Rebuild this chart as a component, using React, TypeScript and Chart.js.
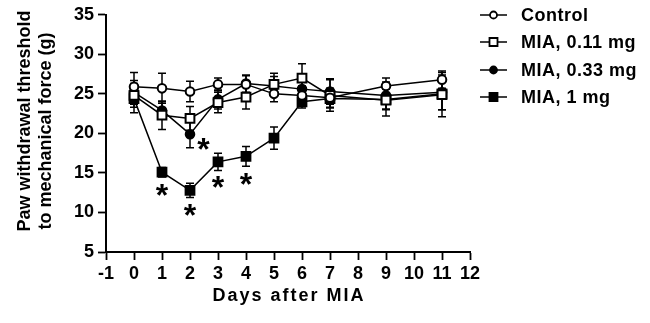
import React, { useEffect, useRef } from 'react';
import { Chart, registerables } from 'chart.js';

Chart.register(...registerables);

const FONT = 'Arial, "Liberation Sans", Helvetica, sans-serif';

const days = [0, 1, 2, 3, 4, 5, 6, 7, 9, 11];
const seriesLabels = ['Control', 'MIA, 0.11 mg', 'MIA, 0.33 mg', 'MIA, 1 mg'];

const controlMean = [25.9, 25.7, 25.3, 26.2, 26.2, 25.0, 24.8, 24.5, 26.0, 26.8];
const controlErr = [1.8, 1.9, 1.3, 0.8, 1.1, 1.0, 1.2, 1.2, 1.0, 1.1];
const mia011Mean = [24.8, 22.3, 21.9, 23.9, 24.6, 26.2, 27.0, 24.8, 24.2, 24.9];
const mia011Err = [1.5, 1.8, 1.5, 1.3, 1.5, 1.4, 1.8, 2.0, 2.0, 2.8];
const mia033Mean = [25.2, 22.9, 19.9, 24.3, 26.3, 26.0, 25.6, 25.3, 24.8, 25.2];
const mia033Err = [1.5, 1.1, 1.7, 1.2, 1.1, 1.2, 1.2, 1.6, 1.7, 2.2];
const mia1Mean = [24.4, 15.1, 12.8, 16.4, 17.1, 19.4, 24.0, 24.4, 24.3, 25.0];
const mia1Err = [1.8, 0.6, 0.9, 1.1, 1.25, 1.4, 0.8, 1.2, 1.3, 2.0];

const xTickValues = [-1, 0, 1, 2, 3, 4, 5, 6, 7, 8, 9, 10, 11, 12];
const yTickValues = [5, 10, 15, 20, 25, 30, 35];

const asteriskX = [1, 2, 3, 4, 2.48];
const asteriskY = [12.9, 10.3, 13.8, 14.2, 18.7];

const xTitle = 'Days after MIA';
const yTitleLines = ['Paw withdrawal threshold', 'to mechanical force (g)'];

const means = [controlMean, mia011Mean, mia033Mean, mia1Mean];
const errs = [controlErr, mia011Err, mia033Err, mia1Err];
const styles = [
  { shape: 'circle', fill: '#ffffff', r: 4.3 },
  { shape: 'rect', fill: '#ffffff', r: 6.2 },
  { shape: 'circle', fill: '#000000', r: 4.3 },
  { shape: 'rect', fill: '#000000', r: 6.2 },
];

const errorBarPlugin = {
  id: 'errorBars',
  beforeDatasetsDraw(chart: any) {
    const { ctx, scales } = chart;
    ctx.save();
    ctx.strokeStyle = '#000';
    ctx.lineWidth = 1.5;
    errs.forEach((errArr, s) => {
      errArr.forEach((e, i) => {
        const x = scales.x.getPixelForValue(days[i]);
        const yt = scales.y.getPixelForValue(means[s][i] + e);
        const yb = scales.y.getPixelForValue(means[s][i] - e);
        ctx.beginPath();
        ctx.moveTo(x, yt);
        ctx.lineTo(x, yb);
        ctx.moveTo(x - 4, yt);
        ctx.lineTo(x + 4, yt);
        ctx.moveTo(x - 4, yb);
        ctx.lineTo(x + 4, yb);
        ctx.stroke();
      });
    });
    ctx.restore();
  },
};

const annotationPlugin = {
  id: 'annotations',
  afterDraw(chart: any) {
    const { ctx, scales, chartArea } = chart;
    ctx.save();
    // asterisks
    ctx.fillStyle = '#000';
    ctx.font = `bold 32px ${FONT}`;
    ctx.textAlign = 'center';
    ctx.textBaseline = 'alphabetic';
    const m = ctx.measureText('*');
    const glyphMid = (m.actualBoundingBoxAscent - m.actualBoundingBoxDescent) / 2;
    asteriskX.forEach((ax, i) => {
      const px = scales.x.getPixelForValue(ax);
      const py = scales.y.getPixelForValue(asteriskY[i]);
      ctx.fillText('*', px, py + glyphMid);
    });

    // x title
    ctx.font = `bold 18px ${FONT}`;
    (ctx as any).letterSpacing = '2px';
    ctx.textAlign = 'center';
    ctx.textBaseline = 'middle';
    ctx.fillText(xTitle, (chartArea.left + chartArea.right) / 2 + 1, 296);
    (ctx as any).letterSpacing = '0px';

    // y title
    const yCenters = [[25, 121], [46, 131]];
    yTitleLines.forEach((line, i) => {
      ctx.save();
      ctx.translate(yCenters[i][0], yCenters[i][1]);
      ctx.rotate(-Math.PI / 2);
      ctx.font = `bold 18px ${FONT}`;
      ctx.textAlign = 'center';
      ctx.textBaseline = 'middle';
      ctx.fillText(line, 0, 0);
      ctx.restore();
    });

    // legend
    const legendY = [15, 42, 70, 97];
    seriesLabels.forEach((label, i) => {
      const y = legendY[i];
      ctx.strokeStyle = '#000';
      ctx.lineWidth = 1.5;
      ctx.beginPath();
      ctx.moveTo(480, y);
      ctx.lineTo(507, y);
      ctx.stroke();
      const st = styles[i];
      ctx.fillStyle = st.fill;
      ctx.lineWidth = 1.8;
      ctx.beginPath();
      if (st.shape === 'circle') {
        ctx.arc(493.5, y, 3.5, 0, Math.PI * 2);
      } else {
        ctx.rect(493.5 - 4, y - 4, 8, 8);
      }
      ctx.fill();
      ctx.stroke();
      ctx.fillStyle = '#000';
      ctx.font = `bold 18px ${FONT}`;
      (ctx as any).letterSpacing = '0.5px';
      ctx.textAlign = 'left';
      ctx.textBaseline = 'middle';
      ctx.fillText(label, 521, y + 1);
      (ctx as any).letterSpacing = '0px';
    });
    ctx.restore();
  },
};

export default function App() {
  const ref = useRef<HTMLCanvasElement | null>(null);
  useEffect(() => {
    if (!ref.current) return;
    const datasets = seriesLabels.map((label, s) => ({
      label,
      data: days.map((d, i) => ({ x: d, y: means[s][i] })),
      borderColor: '#000',
      borderWidth: 1.5,
      backgroundColor: styles[s].fill,
      pointBackgroundColor: styles[s].fill,
      pointBorderColor: '#000',
      pointBorderWidth: 2,
      pointStyle: styles[s].shape as any,
      pointRadius: styles[s].r,
      fill: false,
      tension: 0,
    }));
    const tickFont = { family: FONT, size: 18, weight: 'bold' as const };
    const gridOpts = {
      display: true,
      drawOnChartArea: false,
      drawTicks: true,
      tickLength: 8,
      tickWidth: 1.8,
      tickColor: '#000',
      color: '#000',
    };
    const chart = new Chart(ref.current, {
      type: 'line',
      data: { datasets },
      options: {
        animation: false,
        responsive: false,
        devicePixelRatio: 1,
        layout: { padding: { top: 10, right: 180, left: 0, bottom: 0 } },
        plugins: { legend: { display: false }, tooltip: { enabled: false } },
        scales: {
          x: {
            type: 'linear',
            min: -1,
            max: 12,
            afterBuildTicks: (scale: any) => {
              scale.ticks = xTickValues.map((v) => ({ value: v }));
            },
            afterFit: (scale: any) => {
              scale.height = 71;
            },
            ticks: {
              autoSkip: false,
              maxRotation: 0,
              color: '#000',
              padding: 3,
              font: tickFont,
            },
            grid: gridOpts,
            border: { display: true, color: '#000', width: 2 },
          },
          y: {
            type: 'linear',
            min: 5,
            max: 35,
            afterBuildTicks: (scale: any) => {
              scale.ticks = yTickValues.map((v) => ({ value: v }));
            },
            afterFit: (scale: any) => {
              scale.width = 106;
            },
            ticks: {
              color: '#000',
              padding: 4,
              font: tickFont,
            },
            grid: gridOpts,
            border: { display: true, color: '#000', width: 2 },
          },
        },
      },
      plugins: [errorBarPlugin, annotationPlugin],
    });
    return () => chart.destroy();
  }, []);
  return (
    <div style={{ position: 'absolute', left: 0, top: 0, width: 650, height: 323 }}>
      <canvas ref={ref} width={650} height={323} style={{ width: 650, height: 323 }} />
    </div>
  );
}
